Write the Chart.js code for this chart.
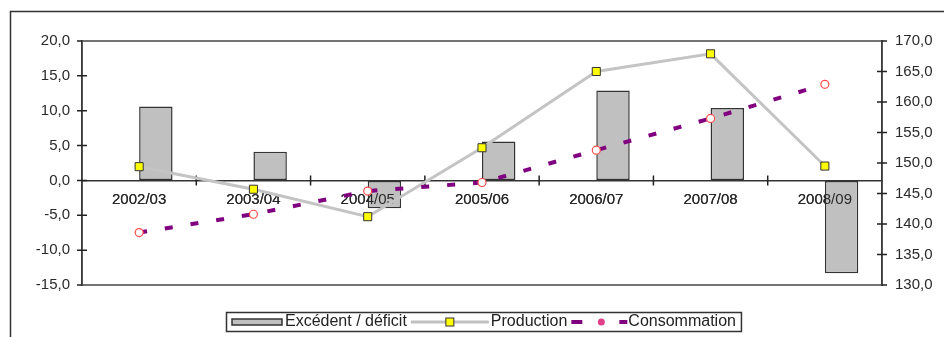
<!DOCTYPE html>
<html>
<head>
<meta charset="utf-8">
<script src="https://cdn.jsdelivr.net/npm/chart.js@4/dist/chart.umd.min.js"></script>
<style>
  html, body { margin: 0; padding: 0; background: #fff; }
  #wrap { width: 944px; height: 337px; position: relative; }
</style>
</head>
<body>
<div id="wrap"><canvas id="c"></canvas></div>
<script>
// Campagnes (x categories)
const campagnes = ['2002/03', '2003/04', '2004/05', '2005/06', '2006/07', '2007/08', '2008/09'];
// Excédent / déficit, left axis
const excedent = [10.6, 4.1, -4.0, 5.6, 12.9, 10.4, -13.3];
// Production and Consommation, right axis
const production = [149.4, 145.7, 141.2, 152.5, 165.0, 167.9, 149.5];
const consommation = [138.6, 141.6, 145.4, 146.8, 152.1, 157.3, 162.9];
// Series names
const seriesNames = ['Excédent / déficit', 'Production', 'Consommation'];
// Axis tick values
const leftTicks = [-15, -10, -5, 0, 5, 10, 15, 20];
const rightTicks = [130, 135, 140, 145, 150, 155, 160, 165, 170];

const FONT = "'Liberation Sans', Arial, sans-serif";
const fmt = v => Number(v).toFixed(1).replace('.', ',');

// White background, outer frame, plot border and crossing tick marks
const framePlugin = {
  id: 'frame',
  beforeDraw(chart) {
    const ctx = chart.ctx;
    ctx.save();
    ctx.fillStyle = '#fff';
    ctx.fillRect(0, 0, chart.width, chart.height);
    ctx.strokeStyle = '#333';
    ctx.lineWidth = 1.5;
    ctx.beginPath();
    ctx.moveTo(10.5, chart.height);
    ctx.lineTo(10.5, 11.5);
    ctx.lineTo(chart.width, 11.5);
    ctx.stroke();
    ctx.restore();
  },
  beforeDatasetsDraw(chart) {
    const ctx = chart.ctx;
    const a = chart.chartArea;
    const sx = chart.scales.x, sy = chart.scales.y, sy2 = chart.scales.y2;
    ctx.save();
    ctx.strokeStyle = '#444';
    ctx.lineWidth = 1.5;
    ctx.strokeRect(a.left, a.top, a.right - a.left, a.bottom - a.top);
    ctx.strokeStyle = '#222';
    ctx.beginPath();
    leftTicks.forEach(v => {
      const y = sy.getPixelForValue(v);
      ctx.moveTo(a.left - 5, y); ctx.lineTo(a.left + (v === leftTicks[0] || v === leftTicks[leftTicks.length - 1] ? 0 : 5), y);
    });
    rightTicks.forEach(v => {
      const y = sy2.getPixelForValue(v);
      ctx.moveTo(a.right - (v === rightTicks[0] || v === rightTicks[rightTicks.length - 1] ? 0 : 5), y); ctx.lineTo(a.right + 5, y);
    });
    const y0 = sy.getPixelForValue(0);
    for (let i = 1; i < campagnes.length; i++) {
      const x = sx.getPixelForValue(i - 0.5);
      ctx.moveTo(x, y0 - 5); ctx.lineTo(x, y0 + 5);
    }
    ctx.stroke();
    ctx.restore();
  },
  // category labels sit above the bars but below the two lines
  beforeDatasetDraw(chart, args) {
    if (args.index === 2) {
      chart.scales.x.drawLabels(chart.chartArea);
    }
  }
};

// Boxed legend along the bottom
const legendPlugin = {
  id: 'boxLegend',
  afterDraw(chart) {
    const ctx = chart.ctx;
    ctx.save();
    ctx.font = '16px ' + FONT;
    ctx.textBaseline = 'middle';
    const top = 312, h = 19, cy = top + h / 2 + 0.5;
    const left = 226;
    let x = left + 6;
    // bar swatch
    ctx.fillStyle = '#c0c0c0';
    ctx.fillRect(x, cy - 3, 50, 6);
    ctx.strokeStyle = '#333'; ctx.lineWidth = 1.5;
    ctx.strokeRect(x, cy - 3, 50, 6);
    x += 53;
    ctx.fillStyle = '#222';
    ctx.fillText(seriesNames[0], x, cy);
    x += ctx.measureText(seriesNames[0]).width + 4;
    // production line sample
    ctx.strokeStyle = '#c0c0c0'; ctx.lineWidth = 3;
    ctx.beginPath(); ctx.moveTo(x, cy); ctx.lineTo(x + 78, cy); ctx.stroke();
    ctx.fillStyle = '#ffff00'; ctx.strokeStyle = '#333'; ctx.lineWidth = 1;
    ctx.fillRect(x + 35, cy - 4, 8, 8); ctx.strokeRect(x + 35, cy - 4, 8, 8);
    x += 80;
    ctx.fillStyle = '#222';
    ctx.fillText(seriesNames[1], x, cy);
    x += ctx.measureText(seriesNames[1]).width + 4;
    // consommation line sample
    ctx.strokeStyle = '#800080'; ctx.lineWidth = 4;
    ctx.beginPath(); ctx.moveTo(x, cy); ctx.lineTo(x + 11, cy); ctx.stroke();
    ctx.fillStyle = '#e0408a';
    ctx.beginPath(); ctx.arc(x + 30, cy, 3.5, 0, Math.PI * 2); ctx.fill();
    ctx.strokeStyle = '#800080';
    ctx.beginPath(); ctx.moveTo(x + 48, cy); ctx.lineTo(x + 56, cy); ctx.stroke();
    x += 57;
    ctx.fillStyle = '#222';
    ctx.fillText(seriesNames[2], x, cy);
    x += ctx.measureText(seriesNames[2]).width + 5;
    ctx.strokeStyle = '#333'; ctx.lineWidth = 1.5;
    ctx.strokeRect(left + 0.5, top + 0.5, x - left, h);
    ctx.restore();
  }
};

const tickFont = { family: FONT, size: 15 };

new Chart(document.getElementById('c'), {
  type: 'bar',
  data: {
    labels: campagnes,
    datasets: [
      {
        // empty slot so each bar sits to the right of its category centre
        label: '',
        data: campagnes.map(() => null),
        yAxisID: 'y',
        order: 3,
        backgroundColor: 'rgba(0,0,0,0)'
      },
      {
        label: seriesNames[0],
        data: excedent,
        yAxisID: 'y',
        order: 3,
        backgroundColor: '#c0c0c0',
        borderColor: '#333',
        borderWidth: 1.5,
        borderSkipped: false
      },
      {
        type: 'line',
        label: seriesNames[1],
        data: production,
        yAxisID: 'y2',
        order: 2,
        borderColor: '#c4c4c4',
        borderWidth: 3,
        tension: 0,
        pointStyle: 'rect',
        pointRadius: 5.7,
        pointBackgroundColor: '#ffff00',
        pointBorderColor: '#333',
        pointBorderWidth: 1
      },
      {
        type: 'line',
        label: seriesNames[2],
        data: consommation,
        yAxisID: 'y2',
        order: 1,
        borderColor: '#800080',
        borderWidth: 4,
        borderDash: [8, 18],
        borderCapStyle: 'butt',
        tension: 0,
        pointStyle: 'circle',
        pointRadius: 4,
        pointBackgroundColor: '#fff',
        pointBorderColor: '#ff4b4b',
        pointBorderWidth: 1.2
      }
    ]
  },
  options: {
    responsive: true,
    maintainAspectRatio: false,
    animation: false,
    devicePixelRatio: 1,
    layout: { padding: { top: 41, bottom: 52, left: 0, right: 0 } },
    datasets: {
      bar: { categoryPercentage: 0.585, barPercentage: 1 }
    },
    plugins: {
      legend: { display: false },
      tooltip: { enabled: false }
    },
    scales: {
      x: {
        position: { y: 0 },
        offset: true,
        grid: { display: true, offset: true, drawOnChartArea: false, drawTicks: false },
        border: { display: true, color: '#333', width: 1.5 },
        ticks: { font: tickFont, color: '#2a2a2a', padding: 10, maxRotation: 0, autoSkip: false }
      },
      y: {
        position: 'left',
        min: leftTicks[0],
        max: leftTicks[leftTicks.length - 1],
        afterBuildTicks: s => { s.ticks = leftTicks.map(v => ({ value: v })); },
        afterFit: s => { s.width = 82; },
        grid: { drawOnChartArea: false, drawTicks: false },
        border: { display: true, color: '#222', width: 1.5 },
        ticks: { font: tickFont, color: '#2a2a2a', padding: 12, callback: v => fmt(v) }
      },
      y2: {
        position: 'right',
        min: rightTicks[0],
        max: rightTicks[rightTicks.length - 1],
        afterBuildTicks: s => { s.ticks = rightTicks.map(v => ({ value: v })); },
        afterFit: s => { s.width = 62; },
        grid: { drawOnChartArea: false, drawTicks: false },
        border: { display: true, color: '#222', width: 1.5 },
        ticks: { font: tickFont, color: '#2a2a2a', padding: 13, callback: v => fmt(v) }
      }
    }
  },
  plugins: [framePlugin, legendPlugin]
});
</script>
</body>
</html>
